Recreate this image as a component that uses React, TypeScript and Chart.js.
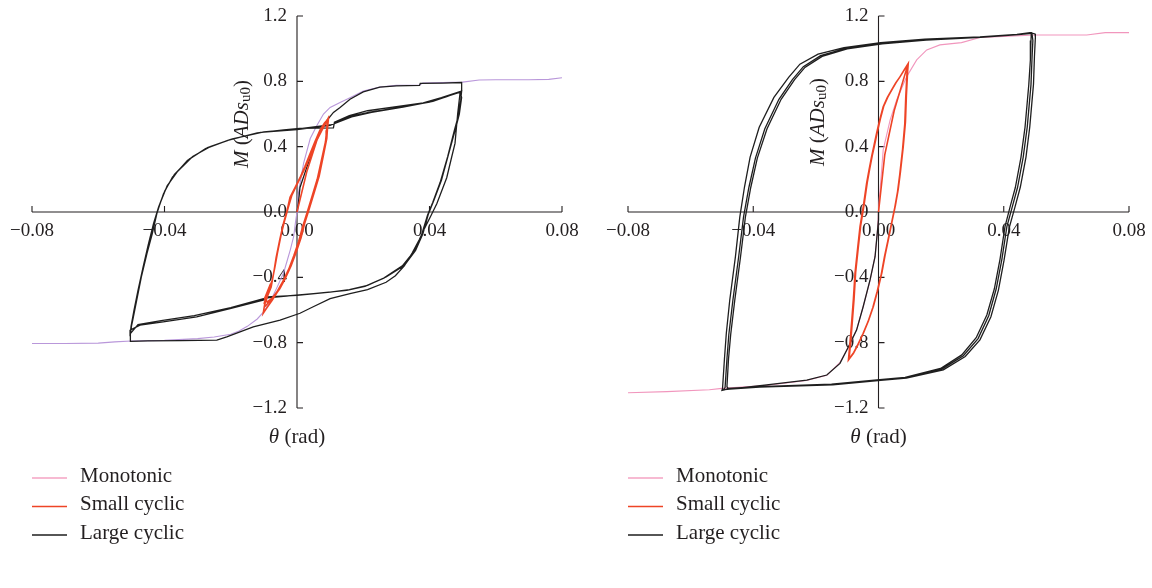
import React, { useEffect, useRef } from 'react';
import { Chart, registerables } from 'chart.js';

Chart.register(...registerables);

// ---------- tick values & labels ----------
const xTickValues = [-0.08, -0.04, 0, 0.04, 0.08];
const yTickValues = [-1.2, -0.8, -0.4, 0, 0.4, 0.8, 1.2];
const seriesNames = ['Monotonic', 'Small cyclic', 'Large cyclic'];
const panelLabels = ['(a)', '(b)'];

// ---------- panel (a) ----------
const monotonicA: [number, number][] = [
  [-0.08, -0.805], [-0.07, -0.805], [-0.06, -0.803], [-0.055, -0.795], [-0.05, -0.79],
  [-0.04, -0.786], [-0.03, -0.775], [-0.025, -0.765], [-0.02, -0.748], [-0.0175, -0.728],
  [-0.015, -0.7], [-0.012, -0.655], [-0.01, -0.61], [-0.008, -0.545], [-0.006, -0.46],
  [-0.004, -0.37], [-0.003, -0.3], [-0.002, -0.23], [-0.001, -0.15], [-0.0005, -0.07],
  [0, 0], [0.0003, 0.1], [0.0008, 0.16], [0.002, 0.3], [0.004, 0.45], [0.006, 0.53],
  [0.008, 0.6], [0.01, 0.64], [0.013, 0.67], [0.016, 0.7], [0.02, 0.74], [0.025, 0.765],
  [0.03, 0.775], [0.037, 0.778], [0.038, 0.79], [0.05, 0.795], [0.055, 0.808],
  [0.06, 0.81], [0.07, 0.81], [0.076, 0.812], [0.08, 0.822],
];

const smallCyclicA: [number, number][] = [
  [0, 0], [0.003, 0.25], [0.006, 0.44], [0.0093, 0.57],
  [0.009, 0.5], [0.0088, 0.44], [0.0076, 0.33], [0.0064, 0.21], [0.0049, 0.11], [0.0034, 0.01],
  [0.002, -0.08], [0.0009, -0.17], [-0.0006, -0.26], [-0.0021, -0.34], [-0.004, -0.42],
  [-0.0056, -0.48], [-0.0075, -0.54], [-0.0092, -0.59], [-0.0102, -0.62],
  [-0.0098, -0.57], [-0.0088, -0.51], [-0.0078, -0.46], [-0.007, -0.37], [-0.0063, -0.28],
  [-0.0052, -0.17], [-0.0041, -0.07], [-0.003, 0.01], [-0.0021, 0.09], [-0.0006, 0.15],
  [0.0009, 0.21], [0.0024, 0.28], [0.0039, 0.355], [0.0054, 0.43], [0.0069, 0.5],
  [0.0083, 0.545], [0.0092, 0.565],
  [0.0089, 0.49], [0.0086, 0.43], [0.0073, 0.31], [0.0061, 0.2], [0.0046, 0.1], [0.0031, 0],
  [0.0017, -0.09], [0.0005, -0.18], [-0.001, -0.27], [-0.0025, -0.35], [-0.0044, -0.43],
  [-0.0061, -0.49], [-0.008, -0.54], [-0.0095, -0.575], [-0.0099, -0.56],
  [-0.0094, -0.52], [-0.0085, -0.47], [-0.0075, -0.42], [-0.0067, -0.34], [-0.0059, -0.25],
  [-0.0048, -0.14], [-0.0037, -0.05], [-0.0026, 0.03], [-0.0016, 0.1], [-0.0001, 0.165],
  [0.0014, 0.225], [0.0029, 0.29], [0.0044, 0.365], [0.0059, 0.44], [0.0073, 0.505],
  [0.0086, 0.55], [0.0095, 0.575],
  [0.0092, 0.51], [0.009, 0.45], [0.0079, 0.34], [0.0067, 0.22], [0.0052, 0.12], [0.0037, 0.02],
  [0.0023, -0.07], [0.0012, -0.16], [-0.0003, -0.25], [-0.0018, -0.33], [-0.0036, -0.41],
  [-0.0052, -0.47], [-0.007, -0.52], [-0.009, -0.55], [-0.0098, -0.53],
  [-0.009, -0.49], [-0.008, -0.44],
];

const largeCyclicA: [number, number][] = [
  [0, 0], [0.0004, 0.05], [0.0009, 0.15], [0.0029, 0.27], [0.0047, 0.37], [0.0059, 0.44],
  [0.0075, 0.51], [0.009, 0.56], [0.011, 0.61], [0.013, 0.64], [0.016, 0.69], [0.02, 0.735],
  [0.025, 0.765], [0.03, 0.772], [0.037, 0.775], [0.0372, 0.787], [0.044, 0.789],
  [0.0497, 0.793], [0.0497, 0.745],
  [0.0492, 0.725], [0.0485, 0.6], [0.0477, 0.42], [0.0465, 0.32], [0.0452, 0.21],
  [0.0437, 0.13], [0.0422, 0.05], [0.0405, -0.02], [0.0385, -0.1], [0.0369, -0.17],
  [0.0348, -0.25], [0.0324, -0.33], [0.0297, -0.39], [0.0269, -0.43], [0.0213, -0.475],
  [0.016, -0.5], [0.01, -0.53], [0.0049, -0.58], [0.0009, -0.62], [-0.0051, -0.662],
  [-0.0132, -0.703], [-0.0212, -0.765], [-0.0242, -0.785], [-0.035, -0.788],
  [-0.045, -0.789], [-0.0503, -0.792],
  [-0.0503, -0.73], [-0.0496, -0.663], [-0.0484, -0.541], [-0.047, -0.398], [-0.0453, -0.255],
  [-0.0437, -0.133], [-0.0422, 0], [-0.0403, 0.112], [-0.0376, 0.214], [-0.0331, 0.316],
  [-0.0276, 0.388], [-0.0209, 0.439], [-0.012, 0.484], [-0.004, 0.503], [0.0008, 0.512],
  [0.011, 0.515], [0.0113, 0.55], [0.0158, 0.59], [0.0213, 0.62], [0.03, 0.645],
  [0.0381, 0.668], [0.0436, 0.7], [0.0492, 0.737],
  [0.0497, 0.7], [0.049, 0.6], [0.048, 0.52], [0.0458, 0.357], [0.0436, 0.194],
  [0.0413, 0.071], [0.0397, -0.01], [0.038, -0.133], [0.0358, -0.235], [0.0324, -0.327],
  [0.0269, -0.398], [0.0213, -0.449], [0.0158, -0.475], [0.01, -0.49], [0, -0.51],
  [-0.009, -0.52], [-0.0102, -0.54], [-0.0202, -0.591], [-0.0303, -0.642], [-0.0404, -0.673],
  [-0.0474, -0.693], [-0.0504, -0.724], [-0.0504, -0.76],
  [-0.0501, -0.7], [-0.0492, -0.6], [-0.048, -0.48], [-0.0465, -0.34], [-0.0449, -0.2],
  [-0.0433, -0.07], [-0.0418, 0.03], [-0.0399, 0.13], [-0.037, 0.23], [-0.0325, 0.325],
  [-0.027, 0.395], [-0.02, 0.445], [-0.011, 0.487], [0, 0.505], [0.01, 0.53],
  [0.016, 0.585], [0.022, 0.612], [0.031, 0.64], [0.04, 0.672], [0.045, 0.705], [0.0497, 0.74],
  [0.0494, 0.68], [0.0486, 0.58], [0.0475, 0.5], [0.0455, 0.34], [0.0432, 0.18],
  [0.041, 0.06], [0.0394, -0.02], [0.0376, -0.14], [0.0352, -0.245], [0.0318, -0.33],
  [0.0262, -0.405], [0.0205, -0.455], [0.015, -0.48], [0.005, -0.5], [-0.009, -0.525],
  [-0.02, -0.585], [-0.031, -0.635], [-0.041, -0.665], [-0.048, -0.69], [-0.0503, -0.745],
  [-0.0499, -0.69], [-0.0488, -0.57], [-0.0475, -0.44], [-0.046, -0.31], [-0.0444, -0.17],
  [-0.0428, -0.04], [-0.0412, 0.06], [-0.0392, 0.16], [-0.036, 0.25], [-0.0315, 0.34],
  [-0.0262, 0.4], [-0.0195, 0.448], [-0.01, 0.49], [0.001, 0.51], [0.0105, 0.535],
  [0.0165, 0.582], [0.0225, 0.61], [0.032, 0.642], [0.041, 0.678], [0.046, 0.712], [0.0495, 0.735],
];

// ---------- panel (b) ----------
const monotonicB: [number, number][] = [
  [-0.08, -1.107], [-0.0676, -1.1], [-0.054, -1.088], [-0.05, -1.08], [-0.036, -1.062],
  [-0.023, -1.032], [-0.0165, -1.0], [-0.0144, -0.96], [-0.0123, -0.92], [-0.0096, -0.83],
  [-0.007, -0.72], [-0.0049, -0.58], [-0.0027, -0.42], [-0.0011, -0.27], [-0.0004, -0.13],
  [0, 0], [0.0002, 0.07], [0.0005, 0.135], [0.0015, 0.38], [0.0037, 0.563], [0.0058, 0.686],
  [0.009, 0.829], [0.0122, 0.931], [0.0154, 0.992], [0.0196, 1.023], [0.0265, 1.037],
  [0.0324, 1.068], [0.04, 1.075], [0.05, 1.084], [0.0665, 1.084], [0.0724, 1.098], [0.08, 1.098],
];

const smallCyclicB: [number, number][] = [
  [0, 0], [0.002, 0.35], [0.005, 0.62], [0.0095, 0.91],
  [0.0092, 0.849], [0.0088, 0.7], [0.0085, 0.543], [0.0078, 0.39], [0.0069, 0.237],
  [0.0062, 0.13], [0.0053, 0.033], [0.0042, -0.07], [0.0031, -0.171], [0.002, -0.27],
  [0.001, -0.375], [-0.0003, -0.48], [-0.0017, -0.58], [-0.0033, -0.67], [-0.0049, -0.743],
  [-0.0065, -0.81], [-0.008, -0.865], [-0.0096, -0.906],
  [-0.0091, -0.8], [-0.0086, -0.682], [-0.008, -0.53], [-0.0075, -0.375], [-0.0067, -0.23],
  [-0.0059, -0.09], [-0.0048, 0.04], [-0.0038, 0.176], [-0.003, 0.26], [-0.0022, 0.339],
  [-0.0014, 0.41], [-0.0006, 0.482], [0.0004, 0.565], [0.0015, 0.645], [0.0028, 0.7],
  [0.0042, 0.747], [0.0055, 0.79], [0.0069, 0.829], [0.0082, 0.87], [0.0095, 0.91],
  [0.0093, 0.86], [0.0089, 0.71], [0.0086, 0.55], [0.0079, 0.4], [0.007, 0.245],
  [0.0063, 0.14], [0.0054, 0.04], [0.0043, -0.06], [0.0032, -0.165], [0.0021, -0.265],
  [0.0011, -0.37], [-0.0002, -0.475], [-0.0016, -0.575], [-0.0032, -0.665], [-0.0048, -0.74],
  [-0.0064, -0.805], [-0.0079, -0.86], [-0.0094, -0.9],
  [-0.0089, -0.8], [-0.0084, -0.68], [-0.0078, -0.53], [-0.0073, -0.37], [-0.0065, -0.225],
  [-0.0057, -0.085], [-0.0046, 0.045], [-0.0036, 0.18], [-0.0028, 0.265], [-0.002, 0.345],
  [-0.0012, 0.415], [-0.0004, 0.488], [0.0006, 0.57], [0.0017, 0.65], [0.003, 0.705],
  [0.0044, 0.752], [0.0057, 0.795], [0.007, 0.832], [0.0083, 0.872], [0.0094, 0.905],
  [0.0091, 0.85], [0.0087, 0.7], [0.0084, 0.54], [0.0077, 0.385], [0.0068, 0.23],
  [0.0061, 0.125], [0.0052, 0.027], [0.0041, -0.075], [0.003, -0.175], [0.0019, -0.275],
  [0.0009, -0.38], [-0.0004, -0.485], [-0.0018, -0.585], [-0.0034, -0.675], [-0.005, -0.747],
  [-0.0066, -0.812], [-0.0081, -0.868], [-0.0095, -0.903],
];

const largeCyclicB: [number, number][] = [
  [0, 0], [0, -0.049], [-0.0011, -0.274], [-0.0027, -0.416], [-0.0049, -0.58], [-0.007, -0.723],
  [-0.0096, -0.825], [-0.0123, -0.927], [-0.0165, -0.998], [-0.0229, -1.029], [-0.0357, -1.059],
  [-0.0485, -1.086], [-0.05, -1.092],
  [-0.0498, -1.078], [-0.0492, -0.9], [-0.0486, -0.742], [-0.0475, -0.539], [-0.0457, -0.275],
  [-0.0443, -0.031], [-0.0428, 0.153], [-0.041, 0.336], [-0.0381, 0.519], [-0.0334, 0.702],
  [-0.0287, 0.824], [-0.0251, 0.905], [-0.0193, 0.966], [-0.011, 1.007], [0.0007, 1.037],
  [0.0148, 1.058], [0.0324, 1.072], [0.0442, 1.088], [0.0484, 1.098], [0.05, 1.09],
  [0.0501, 1.068], [0.0498, 0.95], [0.0495, 0.783], [0.0483, 0.519], [0.0471, 0.336],
  [0.0453, 0.153], [0.0436, 0.031], [0.0418, -0.092], [0.0401, -0.295], [0.0383, -0.478],
  [0.0359, -0.641], [0.0324, -0.783], [0.0277, -0.885], [0.0207, -0.966], [0.0089, -1.017],
  [0.0007, -1.031], [-0.0146, -1.058], [-0.038, -1.072], [-0.0475, -1.084], [-0.0495, -1.088],
  [-0.049, -1.075], [-0.0484, -0.9], [-0.0478, -0.75], [-0.0465, -0.54], [-0.0447, -0.28],
  [-0.0431, -0.03], [-0.0414, 0.15], [-0.0393, 0.33], [-0.0363, 0.51], [-0.0318, 0.69],
  [-0.0275, 0.81], [-0.024, 0.89], [-0.0185, 0.957], [-0.0105, 1.002], [0.001, 1.033],
  [0.015, 1.055], [0.0325, 1.07], [0.0445, 1.087], [0.0488, 1.095],
  [0.0487, 1.05], [0.0485, 0.93], [0.048, 0.78], [0.0468, 0.52], [0.0455, 0.335],
  [0.0437, 0.15], [0.042, 0.03], [0.0404, -0.09], [0.0388, -0.29], [0.037, -0.47],
  [0.0346, -0.63], [0.0312, -0.77], [0.0266, -0.875], [0.0198, -0.958], [0.0085, -1.012],
  [0.0004, -1.027], [-0.015, -1.054], [-0.038, -1.069], [-0.048, -1.08],
  [-0.0484, -1.07], [-0.0479, -0.9], [-0.0472, -0.75], [-0.0459, -0.54], [-0.0441, -0.28],
  [-0.0425, -0.03], [-0.0408, 0.15], [-0.0387, 0.33], [-0.0356, 0.51], [-0.0311, 0.69],
  [-0.0268, 0.81], [-0.0235, 0.885], [-0.018, 0.953], [-0.01, 0.999], [0.0012, 1.03],
  [0.0152, 1.053], [0.0326, 1.069], [0.0447, 1.086], [0.049, 1.094],
  [0.0493, 1.05], [0.049, 0.93], [0.0487, 0.78], [0.0475, 0.52], [0.0462, 0.335],
  [0.0444, 0.15], [0.0427, 0.03], [0.041, -0.09], [0.0394, -0.29], [0.0376, -0.47],
  [0.0352, -0.635], [0.0318, -0.775], [0.0271, -0.88], [0.0202, -0.962], [0.0087, -1.014],
  [0.0005, -1.029], [-0.0148, -1.056], [-0.038, -1.07], [-0.0485, -1.082],
];

// ---------- styling ----------
const FONT = "'Liberation Serif', 'Times New Roman', serif";
const INK = '#231f20';
const RED = '#ee4426';
const BLACK = '#1e1e1e';
const LEGEND_PINK = '#f4a3c3';

type PanelCfg = {
  left: number;
  width: number;
  pad: { left: number; right: number; top: number; bottom: number };
  mono: [number, number][];
  small: [number, number][];
  large: [number, number][];
  monoColor: string;
  label: string;
  yTitleDx: number;
  yTitleY: number;
  labelDx: number;
};

const panelsCfg: PanelCfg[] = [
  {
    left: 0, width: 600, pad: { left: 32, right: 38, top: 16, bottom: 180 },
    mono: monotonicA, small: smallCyclicA, large: largeCyclicA,
    monoColor: '#b997da', label: panelLabels[0], yTitleDx: -55, yTitleY: 124, labelDx: -4,
  },
  {
    left: 576, width: 576, pad: { left: 52, right: 23, top: 16, bottom: 180 },
    mono: monotonicB, small: smallCyclicB, large: largeCyclicB,
    monoColor: '#f196bd', label: panelLabels[1], yTitleDx: -60, yTitleY: 122, labelDx: -3.5,
  },
];

function fmt(v: number, d: number): string {
  const s = Math.abs(v).toFixed(d);
  return v < -1e-12 ? '\u2212' + s : s;
}

type Part = { t: string; font: string; dy?: number };

function drawParts(ctx: CanvasRenderingContext2D, parts: Part[], cx: number, cy: number) {
  let total = 0;
  for (const p of parts) {
    ctx.font = p.font;
    total += ctx.measureText(p.t).width;
  }
  let x = cx - total / 2;
  ctx.textAlign = 'left';
  ctx.textBaseline = 'middle';
  for (const p of parts) {
    ctx.font = p.font;
    ctx.fillText(p.t, x, cy + (p.dy || 0));
    x += ctx.measureText(p.t).width;
  }
}

const crossAxesPlugin = {
  id: 'crossAxes',
  beforeDatasetsDraw(chart: any, _args: any, opts: any) {
    const ctx: CanvasRenderingContext2D = chart.ctx;
    const xs = chart.scales.x;
    const ys = chart.scales.y;
    const x0 = xs.getPixelForValue(0);
    const y0 = ys.getPixelForValue(0);
    const xl = xs.getPixelForValue(xTickValues[0]);
    const xr = xs.getPixelForValue(xTickValues[xTickValues.length - 1]);
    const yt = ys.getPixelForValue(yTickValues[yTickValues.length - 1]);
    const yb = ys.getPixelForValue(yTickValues[0]);
    ctx.save();
    ctx.strokeStyle = INK;
    ctx.lineWidth = 1.1;
    ctx.beginPath();
    ctx.moveTo(xl, y0);
    ctx.lineTo(xr, y0);
    for (const v of xTickValues) {
      const p = xs.getPixelForValue(v);
      ctx.moveTo(p, y0);
      ctx.lineTo(p, y0 - 6);
    }
    ctx.moveTo(x0, yt);
    ctx.lineTo(x0, yb);
    for (const v of yTickValues) {
      const p = ys.getPixelForValue(v);
      ctx.moveTo(x0, p);
      ctx.lineTo(x0 + 6, p);
    }
    ctx.stroke();

    ctx.fillStyle = INK;
    ctx.font = `19px ${FONT}`;
    ctx.textBaseline = 'middle';
    ctx.textAlign = 'center';
    for (const v of xTickValues) {
      ctx.fillText(fmt(v, 2), xs.getPixelForValue(v), y0 + 19);
    }
    ctx.textAlign = 'right';
    for (const v of yTickValues) {
      ctx.fillText(fmt(v, 1), x0 - 10, ys.getPixelForValue(v));
    }

    // x title
    drawParts(ctx, [
      { t: '\u03B8', font: `italic 21px ${FONT}` },
      { t: ' (rad)', font: `21px ${FONT}` },
    ], x0, 437);

    // y title (rotated)
    ctx.save();
    ctx.translate(x0 + opts.yTitleDx, opts.yTitleY);
    ctx.rotate(-Math.PI / 2);
    drawParts(ctx, [
      { t: 'M', font: `italic 21px ${FONT}` },
      { t: ' (', font: `21px ${FONT}` },
      { t: 'ADs', font: `italic 21px ${FONT}` },
      { t: 'u0', font: `15px ${FONT}`, dy: 4 },
      { t: ')', font: `21px ${FONT}` },
    ], 0, 0);
    ctx.restore();

    // legend
    const lx = chart.chartArea.left;
    const colors = [LEGEND_PINK, RED, BLACK];
    const rows = [478, 506.5, 535];
    ctx.font = `21px ${FONT}`;
    ctx.textAlign = 'left';
    ctx.textBaseline = 'middle';
    seriesNames.forEach((name, i) => {
      ctx.strokeStyle = colors[i];
      ctx.lineWidth = 1.5;
      ctx.beginPath();
      ctx.moveTo(lx, rows[i]);
      ctx.lineTo(lx + 35, rows[i]);
      ctx.stroke();
      ctx.fillStyle = INK;
      ctx.fillText(name, lx + 48, rows[i] - 2);
    });

    // panel label
    ctx.textAlign = 'center';
    ctx.fillText(opts.label, x0 + opts.labelDx, 571);
    ctx.restore();
  },
};

function toPoints(arr: [number, number][]) {
  return arr.map(([x, y]) => ({ x, y }));
}

function Panel({ cfg }: { cfg: PanelCfg }) {
  const ref = useRef<HTMLCanvasElement | null>(null);
  useEffect(() => {
    if (!ref.current) return;
    const chart = new Chart(ref.current, {
      type: 'scatter',
      data: {
        datasets: [
          {
            label: seriesNames[0], data: toPoints(cfg.mono), borderColor: cfg.monoColor,
            borderWidth: 1.1, showLine: true, pointRadius: 0, tension: 0, fill: false, order: 3,
          },
          {
            label: seriesNames[1], data: toPoints(cfg.small), borderColor: RED,
            borderWidth: 1.6, showLine: true, pointRadius: 0, tension: 0, fill: false, order: 1,
          },
          {
            label: seriesNames[2], data: toPoints(cfg.large), borderColor: BLACK,
            borderWidth: 1.3, showLine: true, pointRadius: 0, tension: 0, fill: false, order: 2,
          },
        ],
      },
      options: {
        animation: false,
        responsive: false,
        devicePixelRatio: 1,
        events: [],
        layout: { padding: cfg.pad },
        scales: {
          x: { type: 'linear', min: -0.08, max: 0.08, display: false },
          y: { type: 'linear', min: -1.2, max: 1.2, display: false },
        },
        plugins: {
          legend: { display: false },
          tooltip: { enabled: false },
          crossAxes: { yTitleDx: cfg.yTitleDx, yTitleY: cfg.yTitleY, label: cfg.label },
        } as any,
      },
      plugins: [crossAxesPlugin],
    });
    return () => chart.destroy();
  }, [cfg]);
  return (
    <canvas
      ref={ref}
      width={cfg.width}
      height={588}
      style={{ position: 'absolute', left: cfg.left, top: 0, width: cfg.width, height: 588 }}
    />
  );
}

export default function App() {
  return (
    <div style={{ position: 'absolute', left: 0, top: 0, width: 1152, height: 588, background: '#fff', overflow: 'hidden' }}>
      {panelsCfg.map((cfg, i) => (
        <Panel key={i} cfg={cfg} />
      ))}
    </div>
  );
}
